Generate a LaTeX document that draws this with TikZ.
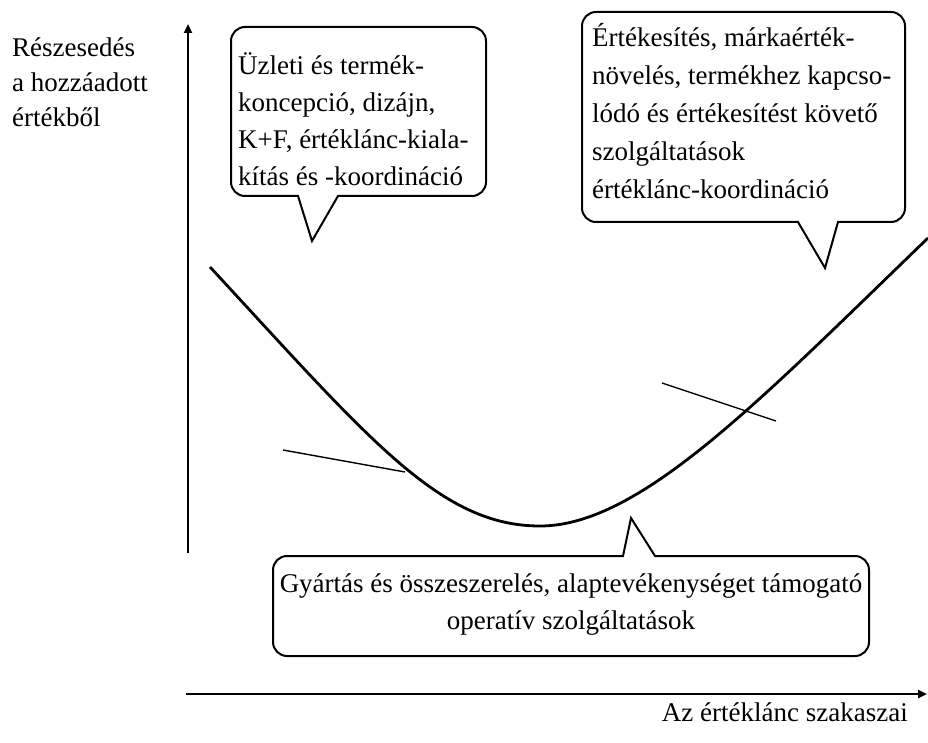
\documentclass[tikz,border=0pt]{standalone}
\usepackage{fontspec}
\setmainfont{Liberation Serif}
\usetikzlibrary{arrows.meta,positioning}

\tikzset{
    every node/.style={font=\fontsize{27}{37}\selectfont, inner sep=0pt},
    axis/.style={line width=2.6pt, -{Triangle[length=9pt,width=8pt]}},
    curve/.style={line width=2.8pt},
    callout/.style={line width=2pt, line join=miter},
    tangent/.style={line width=1.4pt}
}

\begin{document}
\begin{tikzpicture}[x=1pt, y=-1pt]
    \useasboundingbox (0, 0) rectangle (928, 743);

    % axes
    \coordinate (ybottom) at (188, 553);
    \coordinate (ytop) at (188, 24);
    \coordinate (xleft) at (186, 694);
    \coordinate (xright) at (927, 694);
    \draw[axis] (ybottom) -- (ytop);
    \draw[axis] (xleft) -- (xright);
    \node[anchor=north west, align=left, font=\fontsize{27}{35}\selectfont]
        (yaxislabel) at (12, 38) {Részesedés\\a hozzáadott\\értékből};
    \node[anchor=base east] (xaxislabel) at (908, 721) {Az értéklánc szakaszai};

    % smile curve
    \coordinate (cstart) at (210, 267);
    \coordinate (cmin) at (540, 526);
    \coordinate (cend) at (928, 238);
    \draw[curve] (cstart) .. controls (370, 440) and (440, 526) .. (cmin)
        .. controls (640, 526) and (760, 400) .. (cend);

    % tangents
    \coordinate (lt1) at (283, 450);
    \coordinate (lt2) at (405, 472);
    \coordinate (rt1) at (662, 383);
    \coordinate (rt2) at (776, 421);
    \draw[tangent] (lt1) -- (lt2);
    \draw[tangent] (rt1) -- (rt2);

    % callouts
    \draw[callout] (312, 241) -- (298, 196) [rounded corners=14]
        -- (231, 196) -- (231, 27) -- (486, 27) -- (486, 196)
        [sharp corners] -- (338, 196) -- cycle;
    \node[anchor=north west, align=left] (uzleti) at (238, 52)
        {Üzleti és termék-\\koncepció, dizájn,\\K+F, értéklánc-kiala-\\kítás és -koordináció};

    \draw[callout] (825, 268) -- (798, 222) [rounded corners=14]
        -- (582, 222) -- (582, 12) -- (905, 12) -- (905, 222)
        [sharp corners] -- (838, 222) -- cycle;
    \node[anchor=north west, align=left, font=\fontsize{27}{38}\selectfont]
        (ertekesites) at (592, 23)
        {Értékesítés, márkaérték-\\növelés, termékhez kapcso-\\lódó és értékesítést követő\\szolgáltatások\\értéklánc-koordináció};

    \draw[callout] (631, 518) -- (655, 556) [rounded corners=14]
        -- (869, 556) -- (869, 656) -- (273, 656) -- (273, 556)
        [sharp corners] -- (623, 556) -- cycle;
    \node[anchor=north, align=center] (gyartas) at (571, 574)
        {Gyártás és összeszerelés, alaptevékenységet támogató\\operatív szolgáltatások};
\end{tikzpicture}
\end{document}
